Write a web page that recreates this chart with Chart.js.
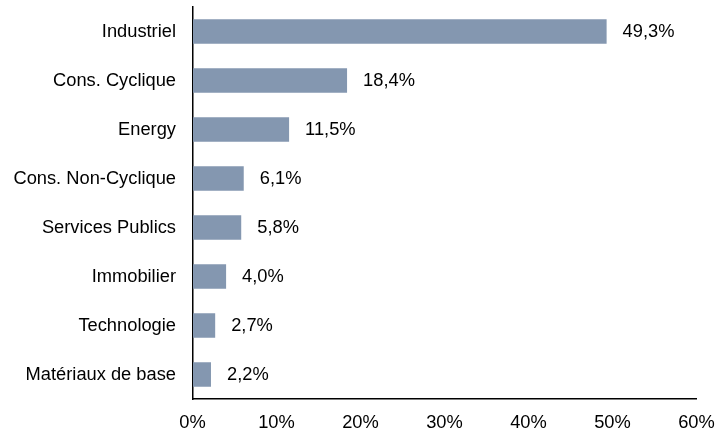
<!DOCTYPE html>
<html>
<head>
<meta charset="utf-8">
<script src="https://cdn.jsdelivr.net/npm/chart.js@4/dist/chart.umd.min.js"></script>
<style>
  html, body { margin: 0; padding: 0; background: #fff; }
  #wrap { width: 728px; height: 432px; }
</style>
</head>
<body>
<div id="wrap"><canvas id="chart" width="728" height="432"></canvas></div>
<script>
const sectors = ["Industriel", "Cons. Cyclique", "Energy", "Cons. Non-Cyclique",
  "Services Publics", "Immobilier", "Technologie", "Matériaux de base"];
const weights = [49.3, 18.4, 11.5, 6.1, 5.8, 4.0, 2.7, 2.2];
const xTicks = [0, 10, 20, 30, 40, 50, 60];

const fontFamily = "'Liberation Sans', Arial, sans-serif";
const fontSize = 18.3;

// étiquettes en bout de barre, format français
const valueLabels = {
  id: "valueLabels",
  afterDatasetsDraw(chart) {
    const ctx = chart.ctx;
    const meta = chart.getDatasetMeta(0);
    ctx.save();
    ctx.font = fontSize + "px " + fontFamily;
    ctx.fillStyle = "#000";
    ctx.textAlign = "left";
    ctx.textBaseline = "middle";
    meta.data.forEach((bar, i) => {
      ctx.fillText(weights[i].toFixed(1).replace(".", ",") + "%", bar.x + 16, bar.y);
    });
    ctx.restore();
  }
};

new Chart(document.getElementById("chart"), {
  type: "bar",
  data: {
    labels: sectors,
    datasets: [{
      data: weights,
      backgroundColor: "#8497B0",
      barPercentage: 0.5,
      categoryPercentage: 1
    }]
  },
  options: {
    indexAxis: "y",
    responsive: false,
    animation: false,
    layout: { autoPadding: false, padding: { top: 7, right: 31.5, bottom: 0, left: 0 } },
    plugins: { legend: { display: false }, tooltip: { enabled: false } },
    scales: {
      x: {
        min: 0,
        max: 60,
        afterBuildTicks(scale) { scale.ticks = xTicks.map(v => ({ value: v })); },
        afterFit(scale) {
          scale.height = 33;
          scale.paddingLeft = 0; scale.paddingRight = 0;
          scale.paddingTop = 0; scale.paddingBottom = 0;
        },
        grid: { display: true, color: "transparent", drawTicks: false },
        border: { display: true, color: "#000", width: 1.5 },
        ticks: {
          padding: 13,
          color: "#000",
          font: { family: fontFamily, size: fontSize },
          maxRotation: 0,
          callback: v => v + "%"
        }
      },
      y: {
        afterFit(scale) {
          scale.width = 192.5;
          scale.paddingTop = 0; scale.paddingBottom = 0;
          scale.paddingLeft = 0; scale.paddingRight = 0;
        },
        grid: { display: true, color: "transparent", drawTicks: false },
        border: { display: true, color: "#000", width: 1.5 },
        ticks: {
          padding: 16.5,
          color: "#000",
          font: { family: fontFamily, size: fontSize }
        }
      }
    }
  },
  plugins: [valueLabels]
});
</script>
</body>
</html>
